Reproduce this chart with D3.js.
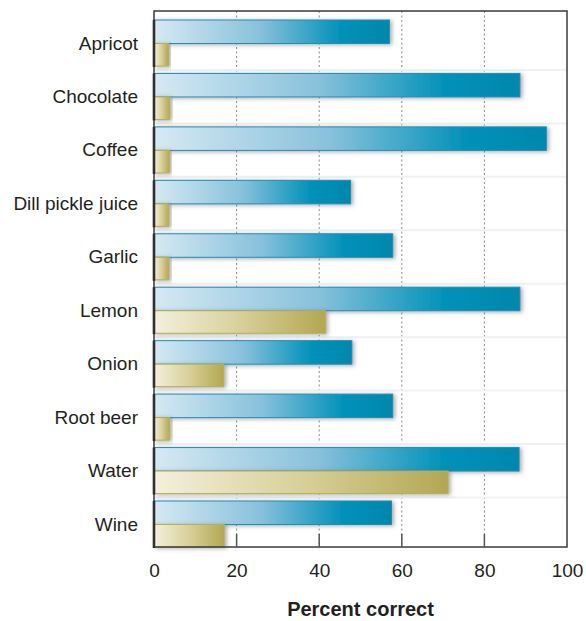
<!DOCTYPE html>
<html>
<head>
<meta charset="utf-8">
<script src="https://cdn.jsdelivr.net/npm/d3@7/dist/d3.min.js"></script>
<style>
  html, body { margin: 0; padding: 0; background: #fff; }
  svg { display: block; }
  text { font-family: "Liberation Sans", Arial, Helvetica, sans-serif; fill: #231f20; }
</style>
</head>
<body>
<div id="chart"></div>
<script>
// Foods tasted and the percentage of correct identifications
const categories = ["Apricot", "Chocolate", "Coffee", "Dill pickle juice", "Garlic",
                    "Lemon", "Onion", "Root beer", "Water", "Wine"];
const blueValues = [57, 88.6, 95, 47.6, 57.8, 88.6, 47.9, 57.8, 88.4, 57.5];
const goldValues = [3.5, 3.8, 3.7, 3.6, 3.6, 41.5, 16.9, 3.8, 71.2, 17];
const xTicks = [0, 20, 40, 60, 80, 100];
const axisTitle = "Percent correct";

const width = 586, height = 621;
const margin = { top: 11, right: 19, bottom: 74, left: 154 };
const plotW = width - margin.left - margin.right;   // 413
const plotH = height - margin.top - margin.bottom;  // 536

const svg = d3.select("#chart").append("svg")
  .attr("width", width).attr("height", height);

const defs = svg.append("defs");

const blueGrad = defs.append("linearGradient").attr("id", "blueGrad")
  .attr("x1", "0%").attr("x2", "100%").attr("y1", "0%").attr("y2", "0%");
[["0%", "#d6e9f3"], ["45%", "#88c1db"], ["80%", "#0091b9"], ["100%", "#0087ad"]]
  .forEach(([o, c]) => blueGrad.append("stop").attr("offset", o).attr("stop-color", c));

const goldGrad = defs.append("linearGradient").attr("id", "goldGrad")
  .attr("x1", "0%").attr("x2", "100%").attr("y1", "0%").attr("y2", "0%");
[["0%", "#f4f0dc"], ["50%", "#d8d09a"], ["100%", "#b2a852"]]
  .forEach(([o, c]) => goldGrad.append("stop").attr("offset", o).attr("stop-color", c));

const shadow = defs.append("filter").attr("id", "shadow")
  .attr("x", "-10%").attr("y", "-40%").attr("width", "125%").attr("height", "190%");
shadow.append("feDropShadow").attr("dx", 2).attr("dy", 1)
  .attr("stdDeviation", 2.2).attr("flood-color", "#555").attr("flood-opacity", 0.5);

const g = svg.append("g").attr("transform", `translate(${margin.left},${margin.top})`);

const x = d3.scaleLinear().domain([0, 100]).range([0, plotW]);
const y = d3.scaleBand().domain(categories)
  .range([9, 537]).paddingInner(0.1205).paddingOuter(0);
const half = d3.scaleBand().domain(["blue", "gold"]).range([0, y.bandwidth()]);

// dotted vertical grid lines
g.append("g").selectAll("line")
  .data(xTicks.slice(1, -1)).join("line")
  .attr("x1", d => x(d)).attr("x2", d => x(d))
  .attr("y1", 0).attr("y2", plotH)
  .attr("stroke", "#8a8a8a").attr("stroke-width", 1)
  .attr("stroke-dasharray", "2,2.5");

// faint separators between groups
g.append("g").selectAll("line")
  .data(categories.slice(1)).join("line")
  .attr("x1", 0).attr("x2", plotW)
  .attr("y1", d => y(d) - 3.5).attr("y2", d => y(d) - 3.5)
  .attr("stroke", "#f1f1f1").attr("stroke-width", 2);

// bars
const groups = g.append("g").selectAll("g")
  .data(categories).join("g")
  .attr("transform", d => `translate(0,${y(d)})`);

groups.append("rect")
  .attr("x", x(0)).attr("y", half("blue"))
  .attr("width", (d, i) => x(blueValues[i]) - x(0))
  .attr("height", half.bandwidth())
  .attr("fill", "url(#blueGrad)")
  .attr("stroke", "#1f8fb8").attr("stroke-width", 1)
  .attr("filter", "url(#shadow)");

groups.append("rect")
  .attr("x", x(0)).attr("y", half("gold"))
  .attr("width", (d, i) => x(goldValues[i]) - x(0))
  .attr("height", half.bandwidth() - 1)
  .attr("fill", "url(#goldGrad)")
  .attr("stroke", "#b8ae5c").attr("stroke-width", 1)
  .attr("filter", "url(#shadow)");

// frame
g.append("rect")
  .attr("x", 0).attr("y", 0).attr("width", plotW).attr("height", plotH)
  .attr("fill", "none").attr("stroke", "#3a3a3a").attr("stroke-width", 1.5);

// darker left spine beside each group
groups.append("line")
  .attr("x1", 0).attr("x2", 0)
  .attr("y1", 0).attr("y2", y.bandwidth())
  .attr("stroke", "#111").attr("stroke-width", 2.5);

// bottom axis
const xAxis = d3.axisBottom(x).tickValues(xTicks).tickSize(0).tickPadding(18)
  .tickFormat(d3.format("d"));
const ax = g.append("g").attr("transform", `translate(0,${plotH})`).call(xAxis);
ax.select(".domain").remove();
ax.selectAll("text").style("font-size", "19px").attr("fill", "#231f20")
  .attr("dy", "0.71em").attr("y", 17);

// inner tick marks along the bottom
g.append("g").selectAll("line")
  .data(xTicks.slice(1, -1)).join("line")
  .attr("x1", d => x(d)).attr("x2", d => x(d))
  .attr("y1", plotH - 13).attr("y2", plotH)
  .attr("stroke", "#555").attr("stroke-width", 1.5);

// category labels
const ay = d3.axisLeft(y).tickSize(0).tickPadding(16);
const yAxisG = g.append("g").call(ay);
yAxisG.select(".domain").remove();
yAxisG.selectAll("text").style("font-size", "19px").attr("fill", "#231f20");

// axis title
svg.append("text")
  .attr("x", margin.left + plotW / 2).attr("y", 616)
  .attr("text-anchor", "middle")
  .style("font-size", "20px").style("font-weight", "bold")
  .text(axisTitle);
</script>
</body>
</html>
